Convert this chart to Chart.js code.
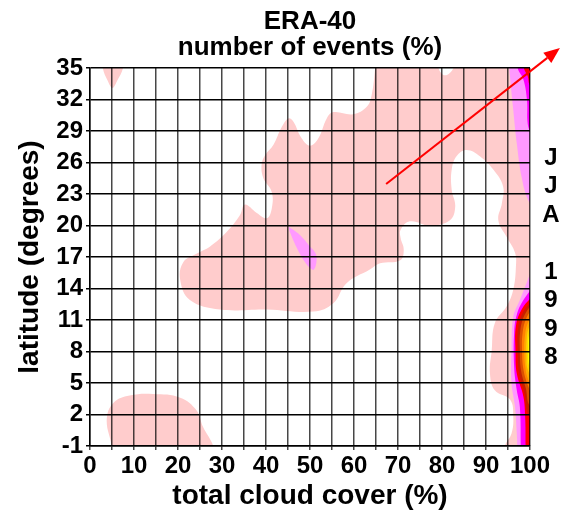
<!DOCTYPE html>
<html>
<head>
<meta charset="utf-8">
<script src="https://cdn.jsdelivr.net/npm/chart.js@4.4.1/dist/chart.umd.min.js"></script>
<style>
  html, body { margin: 0; padding: 0; background: #ffffff; }
  #wrap { width: 561px; height: 518px; position: relative; }
</style>
</head>
<body>
<div id="wrap"><canvas id="chart"></canvas></div>
<script>
// Axis ticks
const X_TICKS = [0, 5, 10, 15, 20, 25, 30, 35, 40, 45, 50, 55, 60, 65, 70, 75, 80, 85, 90, 95, 100];
const Y_TICKS = [-1, 2, 5, 8, 11, 14, 17, 20, 23, 26, 29, 32, 35];

// Contour outlines, [total cloud cover %, latitude], lowest level first
const PINK_MAIN = [
  [65, 36.5], [64.8, 35], [64, 32.4], [62.9, 31.3], [59.8, 30.6], [55.3, 30.8], [53.8, 30.2],
  [51.9, 28.3], [50, 27.6], [48.1, 28.3], [46.2, 29.9], [45.1, 30.2], [43.6, 29.4], [41.7, 27.7],
  [39.8, 26.7], [39, 25.8], [39.4, 24.5], [41.3, 23.2], [41.3, 21.6], [40.2, 20.7], [37.9, 21.2],
  [35.2, 22.0], [34.1, 21.0], [31.1, 19.4], [27.3, 18.0], [24.2, 17.3], [21.2, 16.5], [20.5, 14.8],
  [22.7, 12.9], [29.5, 12.0], [40.2, 12.0], [50.8, 11.8], [55.3, 12.6], [58.3, 14.5], [63.6, 15.8],
  [65.9, 16.4], [70.5, 16.7], [71.3, 17.7], [70.6, 18.8], [70.6, 19.6], [72.7, 20.4], [77.3, 20.0],
  [81.8, 20.5], [83, 21.8], [82.2, 23.4], [82.2, 25.3], [83.3, 26.6], [85.6, 27.2], [88.6, 26.6],
  [91.7, 25.3], [93.9, 23.7], [93.6, 22.1], [92.8, 20.5], [94.7, 18.9], [96.6, 17.4], [96.8, 16.1],
  [96.2, 13.9], [94.7, 12.3], [92, 10.7], [91.3, 8.1], [90.9, 5.9], [92, 4.3], [95.5, 3.4],
  [96.2, 1.8], [95.8, 0.2], [94.3, -1], [94, -2.5], [102, -2.5], [102, 36.5], [83, 36.5],
  [82.6, 35], [80.7, 34.3], [79.2, 35], [79, 36.5]
];
const PINK_TOP_LEFT = [[2.6, 36.5], [2.9, 35], [4, 33.8], [5.1, 33.1], [6.2, 33.8], [7.5, 35], [7.8, 36.5]];
const PINK_BOTTOM_LEFT = [
  [4.9, -2.5], [4.9, -1], [3.8, 1.5], [5.3, 3.1], [9, 3.8], [14.4, 3.95], [20.5, 3.6],
  [24.2, 2.4], [25.7, 0.8], [28, -1], [28.5, -2.5]
];
const LILAC_SPOT = [
  [45.1, 19.9], [47.7, 19.1], [50, 18.0], [51.2, 17.4], [51.5, 16.7], [50.9, 15.8], [50.2, 15.9],
  [49.2, 16.3], [47.7, 17.3], [46.4, 18.4], [45.4, 19.4]
];
const LILAC_TOP = [[95.2, 36.5], [95.3, 35], [96.2, 31], [97, 27.8], [98.1, 24.6], [99.6, 22.4], [101, 21.8], [102, 36.5]];
const MAGENTA_TOP = [[97.1, 36.5], [97.2, 35], [98.5, 33.9], [99.3, 32], [99.6, 29.4], [101, 28.5], [102, 36.5]];
const RED_TOP = [[98.4, 36.5], [98.6, 35], [99.5, 34.2], [99.9, 33.4], [101, 33], [102, 36.5]];
const LILAC_CORE = [
  [101, 16.4], [99.2, 14.5], [97.7, 12.9], [96.2, 11.3], [95.8, 8.1], [95.8, 5.0], [96.6, 2.7],
  [97, 0.2], [97.1, -1], [97.1, -2.5], [102, -2.5], [102, 16.4]
];
const MAGENTA_CORE = [
  [101, 14.3], [98.5, 12.9], [97, 11.5], [96.4, 9.8], [96.4, 6.5], [97, 4.3], [97.7, 2.7],
  [97.9, -1], [97.9, -2.5], [102, -2.5], [102, 14.3]
];
const RED_CORE = [
  [101, 13.5], [98.1, 12.0], [96.8, 10.4], [96.7, 8.1], [97, 5.9], [98.5, 3.7], [98.9, 1.8],
  [99.0, -1], [99, -2.5], [102, -2.5], [102, 13.5]
];
const DARKRED_CORE = [[101, 13.1], [98.5, 11.8], [97.3, 10.2], [97.2, 8], [97.5, 6], [98.8, 3.9], [99.4, 2.2], [101, 1.4]];
const BROWN_CORE = [[101, 12.8], [98.8, 11.5], [97.8, 10], [97.7, 8], [98, 6.1], [99.1, 4.4], [99.7, 3], [101, 2.5]];
const ORANGE_CORE = [[101, 12.4], [99.1, 11.1], [98.3, 9.7], [98.2, 8], [98.5, 6.3], [99.4, 4.9], [101, 3.4]];
const AMBER_CORE = [[101, 11.8], [99.4, 10.6], [98.8, 9.3], [98.7, 8], [98.9, 6.6], [99.6, 5.3], [101, 4.2]];
const GOLD_CORE = [[101, 11.1], [99.6, 10.1], [99.2, 8.9], [99.2, 7.6], [99.4, 6.4], [101, 5]];
const YELLOW_CORE = [[101, 10.4], [99.75, 9.5], [99.6, 8.2], [99.7, 6.8], [101, 5.6]];

// Shading per contour level
const LEVEL_COLORS = {
  pink: '#ffcccc', lilac: '#ff99ff', magenta: '#ff00ff', red: '#ff0000', darkred: '#c81e00',
  brown: '#dc5000', orange: '#ff8200', amber: '#ffac00', gold: '#ffd800', yellow: '#ffff00'
};
const LAYERS = [
  [PINK_MAIN, 'pink'], [PINK_TOP_LEFT, 'pink'], [PINK_BOTTOM_LEFT, 'pink'],
  [LILAC_SPOT, 'lilac'], [LILAC_TOP, 'lilac'], [MAGENTA_TOP, 'magenta'], [RED_TOP, 'red'],
  [LILAC_CORE, 'lilac'], [MAGENTA_CORE, 'magenta'], [RED_CORE, 'red'], [DARKRED_CORE, 'darkred'],
  [BROWN_CORE, 'brown'], [ORANGE_CORE, 'orange'], [AMBER_CORE, 'amber'], [GOLD_CORE, 'gold'],
  [YELLOW_CORE, 'yellow']
];

// Trend arrow and side caption
const ARROW_FROM = [67.3, 23.95];
const ARROW_TO = [106.8, 36.9];
const SIDE_LABEL = ['J', 'J', 'A', '', '1', '9', '9', '8'];

const FONT = "'Liberation Sans', Arial, Helvetica, sans-serif";
Chart.defaults.font.family = FONT;
Chart.defaults.font.weight = 'bold';
Chart.defaults.color = '#000000';

const datasets = LAYERS.map(([outline, level], i) => ({
  data: outline.map(([x, y]) => ({ x, y })),
  backgroundColor: LEVEL_COLORS[level],
  borderWidth: 0,
  pointRadius: 0,
  pointHoverRadius: 0,
  tension: 0.4,
  fill: 'shape',
  order: LAYERS.length - i
}));

const overlay = {
  id: 'overlay',
  afterDraw(chart) {
    const { ctx, chartArea, scales: { x, y } } = chart;
    const x0 = x.getPixelForValue(ARROW_FROM[0]);
    const y0 = y.getPixelForValue(ARROW_FROM[1]);
    const x1 = x.getPixelForValue(ARROW_TO[0]);
    const y1 = y.getPixelForValue(ARROW_TO[1]);
    const ang = Math.atan2(y1 - y0, x1 - x0);
    const c = Math.cos(ang), s = Math.sin(ang);
    const head = 16, half = 6.5;
    ctx.save();
    ctx.strokeStyle = '#ff0000';
    ctx.fillStyle = '#ff0000';
    ctx.lineWidth = 2;
    ctx.beginPath();
    ctx.moveTo(x0, y0);
    ctx.lineTo(x1 - head * c, y1 - head * s);
    ctx.stroke();
    ctx.beginPath();
    ctx.moveTo(x1, y1);
    ctx.lineTo(x1 - head * c + half * s, y1 - head * s - half * c);
    ctx.lineTo(x1 - head * c - half * s, y1 - head * s + half * c);
    ctx.closePath();
    ctx.fill();

    ctx.fillStyle = '#000000';
    ctx.font = 'bold 24px ' + FONT;
    ctx.textAlign = 'center';
    ctx.textBaseline = 'middle';
    SIDE_LABEL.forEach((ch, i) => {
      ctx.fillText(ch, chartArea.right + 21, 158 + i * 28.5);
    });
    ctx.restore();
  }
};

new Chart(document.getElementById('chart'), {
  type: 'line',
  data: { datasets },
  options: {
    responsive: true,
    maintainAspectRatio: false,
    animation: false,
    events: [],
    layout: { padding: { left: 0, right: 31, top: 0, bottom: 0 } },
    plugins: {
      legend: { display: false },
      tooltip: { enabled: false },
      title: {
        display: true,
        fullSize: false,
        text: ['ERA-40', 'number of events (%)'],
        color: '#000000',
        font: { size: 26, weight: 'bold', lineHeight: 1.0 },
        padding: { top: 9, bottom: 7 }
      }
    },
    scales: {
      x: {
        type: 'linear',
        min: 0,
        max: 100,
        afterBuildTicks: (scale) => { scale.ticks = X_TICKS.map(v => ({ value: v })); },
        afterFit: (scale) => { scale.height = 72; },
        ticks: {
          autoSkip: false,
          maxRotation: 0,
          padding: 2,
          color: '#000000',
          font: { size: 24, weight: 'bold' },
          callback: (v) => (v % 10 === 0 ? String(v) : '')
        },
        grid: { z: 1, color: 'rgba(0,0,0,0.72)', lineWidth: 1.5, tickLength: 4 },
        border: { z: 1, color: '#000000', width: 1.5 },
        title: {
          display: true,
          text: 'total cloud cover (%)',
          color: '#000000',
          font: { size: 28, weight: 'bold' },
          padding: { top: 0, bottom: 5 }
        }
      },
      y: {
        type: 'linear',
        min: -1,
        max: 35,
        afterBuildTicks: (scale) => { scale.ticks = Y_TICKS.map(v => ({ value: v })); },
        afterFit: (scale) => { scale.width = 90; },
        ticks: {
          autoSkip: false,
          padding: 3,
          color: '#000000',
          font: { size: 24, weight: 'bold' }
        },
        grid: { z: 1, color: '#000000', lineWidth: 1.5, tickLength: 4 },
        border: { z: 1, color: '#000000', width: 1.5 },
        title: {
          display: true,
          text: 'latitude (degrees)',
          color: '#000000',
          font: { size: 28, weight: 'bold' },
          padding: { top: 13, bottom: 0 }
        }
      }
    }
  },
  plugins: [overlay]
});
</script>
</body>
</html>
